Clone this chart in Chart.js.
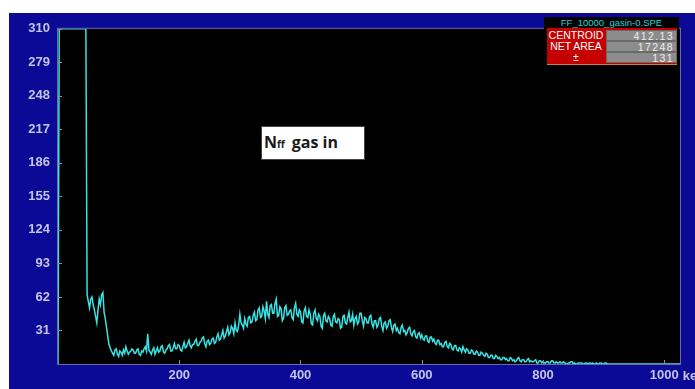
<!DOCTYPE html>
<html>
<head>
<meta charset="utf-8">
<script src="https://cdn.jsdelivr.net/npm/chart.js@4/dist/chart.umd.min.js"></script>
<style>
  body { margin: 0; background: #fff; width: 695px; height: 389px; overflow: hidden; position: relative; }
  #panel { position: absolute; left: 9px; top: 13px; width: 686px; height: 376px; background: #0a0a96; }
  #info { position: absolute; left: 544px; top: 17px; width: 135px; height: 50px; background: #000; font-family: "Liberation Sans", Arial, sans-serif; }
  #info .title { position: absolute; left: 0; top: 1px; width: 135px; text-align: center; color: #2ad0d0; font-size: 9.5px; line-height: 9px; }
  #info .tbl { position: absolute; left: 3px; top: 11px; width: 130px; height: 36px; background: #c40000; border-bottom: 1px solid #d08030; }
  .row { position: absolute; left: 0; width: 130px; height: 10px; }
  .row .lab { position: absolute; left: 0; width: 58px; text-align: center; color: #fff; font-size: 10.5px; line-height: 10px; }
  .row .val { position: absolute; left: 59px; width: 67px; height: 9px; background: #8c8c8c; border: 1px solid #6a6a6a; color: #ececec; font-size: 10.5px; line-height: 10px; text-align: right; letter-spacing: 1.4px; padding-right: 2px; }
  #note { position: absolute; left: 261px; top: 126px; width: 100px; height: 32px; padding-left: 2px; background: #fff; border: 1px solid #444; font-family: "Open Sans", sans-serif; font-weight: bold; color: #1a1a1a; font-size: 16px; line-height: 30px; }
  #note span.sub { font-size: 10px; margin-right: 7px; }
</style>
</head>
<body>
<div id="panel"><canvas id="spec" width="686" height="376"></canvas></div>

<div id="info">
  <div class="title">FF_10000_gasin-0.SPE</div>
  <div class="tbl">
    <div class="row" style="top:2px"><div class="lab">CENTROID</div><div class="val">412.13</div></div>
    <div class="row" style="top:13px"><div class="lab">NET AREA</div><div class="val">17248</div></div>
    <div class="row" style="top:24px"><div class="lab">±</div><div class="val">131</div></div>
  </div>
</div>

<div id="note">N<span class="sub">ff</span>gas in</div>

<script>
'use strict';

// spectrum: one value per 2 keV channel
const kevPerChannel = 2;

const counts = [
  0, 310, 310, 310, 310, 310, 310, 310, 310, 310, 310, 310, 310, 310, 310, 310, 310, 310, 310, 310, 310, 310, 310, 310, 64, 58, 52, 60, 62, 55, 50, 44,
  38, 50, 60, 55, 64, 66, 48, 42, 34, 26, 18, 15, 12, 10, 8, 13, 14, 9, 7, 12, 11, 8, 13, 10, 16, 12, 9, 11, 12, 14, 13, 10,
  10, 13, 14, 9, 8, 12, 11, 14, 16, 12, 28, 13, 11, 9, 13, 15, 9, 12, 15, 11, 12, 16, 17, 11, 10, 13, 14, 17, 18, 12, 12, 15,
  19, 14, 14, 18, 17, 13, 12, 16, 20, 15, 16, 19, 22, 17, 15, 18, 18, 21, 23, 17, 17, 20, 21, 24, 25, 19, 16, 21, 22, 18, 19, 23,
  24, 19, 20, 25, 28, 22, 23, 27, 31, 24, 26, 30, 34, 27, 29, 35, 33, 28, 38, 31, 30, 36, 46, 38, 36, 33, 42, 37, 35, 43, 44, 38,
  39, 45, 48, 40, 41, 50, 52, 43, 44, 53, 49, 42, 58, 46, 43, 54, 55, 47, 47, 56, 60, 44, 45, 53, 51, 40, 42, 52, 54, 45, 46, 49,
  50, 43, 41, 52, 56, 46, 44, 50, 48, 39, 38, 49, 52, 44, 43, 50, 46, 37, 36, 47, 50, 42, 40, 46, 44, 35, 33, 45, 47, 40, 39, 44,
  42, 36, 35, 44, 46, 39, 38, 42, 41, 33, 34, 44, 45, 38, 37, 43, 48, 39, 40, 46, 36, 42, 44, 37, 39, 47, 47, 40, 35, 43, 42, 38,
  38, 44, 45, 37, 34, 40, 40, 34, 36, 42, 43, 35, 31, 38, 39, 33, 35, 40, 41, 34, 30, 36, 37, 31, 33, 29, 28, 34, 36, 30, 31, 27,
  29, 33, 34, 28, 26, 30, 31, 25, 24, 28, 29, 24, 27, 23, 22, 26, 26, 21, 20, 25, 25, 21, 23, 19, 18, 22, 22, 18, 19, 16, 16, 20,
  21, 16, 15, 19, 18, 14, 13, 17, 17, 13, 12, 15, 14, 11, 16, 13, 11, 14, 13, 10, 10, 13, 12, 9, 9, 12, 11, 8, 8, 11, 10, 8,
  7, 10, 9, 6, 6, 8, 8, 5, 5, 8, 7, 5, 6, 4, 4, 6, 6, 4, 5, 3, 3, 6, 5, 3, 4, 2, 3, 5, 6, 3, 2, 4,
  4, 2, 2, 4, 5, 2, 3, 2, 2, 3, 4, 1, 1, 3, 3, 1, 2, 1, 1, 2, 2, 1, 1, 3, 3, 1, 1, 2, 1, 1, 2, 1,
  1, 2, 1, 0, 0, 1, 1, 2, 2, 0, 1, 0, 0, 1, 1, 1, 1, 0, 0, 1, 1, 0, 1, 1, 0, 1, 0, 0, 1, 0, 0, 1,
  1, 0, 0, 1, 1, 0, 0, 0, 0, 0, 0, 0, 0, 0, 0, 0, 0, 0, 0, 0, 0, 0, 0, 0, 0, 0, 0, 0, 0, 0, 0, 0,
  0, 0, 0, 0, 0, 0, 0, 0, 0, 0, 0, 0, 0, 0, 0, 0, 0, 0, 0, 0, 0, 0, 0, 0, 0, 0, 0, 0, 0, 0, 0, 0,
  0, 0
];

const xMax = 1026;
const xTicks = [200, 400, 600, 800, 1000];
const yMax = 310;
const yTicks = [31, 62, 93, 124, 155, 186, 217, 248, 279, 310];
const xUnit = 'keV';

let points = counts.map((c, i) => ({ x: i * kevPerChannel, y: c }));

let labelFont = { family: 'Liberation Sans, Arial, sans-serif', size: 13, weight: 'bold' };
let labelColor = '#c4c4e4';

// black plot area, frame, inward tick marks and the unit after the last label
const plotDeco = {
  id: 'plotDeco',
  beforeDraw(chart) {
    let a = chart.chartArea;
    let ctx = chart.ctx;
    ctx.save();
    ctx.fillStyle = '#000';
    ctx.fillRect(a.left, a.top, a.right - a.left, a.bottom - a.top);
    ctx.restore();
  },
  afterDraw(chart) {
    let a = chart.chartArea;
    let ctx = chart.ctx;
    let xs = chart.scales.x;
    let ys = chart.scales.y;
    ctx.save();
    ctx.strokeStyle = '#6a6aa8';
    ctx.lineWidth = 1;
    ctx.strokeRect(a.left - 0.5, a.top - 0.5, a.right - a.left + 1, a.bottom - a.top + 1);

    ctx.strokeStyle = '#8c8ca8';
    ctx.beginPath();
    ys.ticks.forEach(t => {
      let py = Math.round(ys.getPixelForValue(t.value)) + 0.5;
      ctx.moveTo(a.left, py);
      ctx.lineTo(a.left + 4, py);
    });
    xs.ticks.forEach(t => {
      let px = Math.round(xs.getPixelForValue(t.value)) + 0.5;
      ctx.moveTo(px, a.bottom);
      ctx.lineTo(px, a.bottom - 4);
    });
    ctx.stroke();

    let last = xs.ticks[xs.ticks.length - 1];
    ctx.font = `${labelFont.weight} ${labelFont.size}px ${labelFont.family}`;
    ctx.fillStyle = labelColor;
    ctx.textBaseline = 'middle';
    let lx = xs.getPixelForValue(last.value) + ctx.measureText(String(last.value)).width / 2 + 4;
    ctx.fillText(xUnit, lx, a.bottom + 12);
    ctx.restore();
  }
};

new Chart(document.getElementById('spec'), {
  type: 'line',
  data: {
    datasets: [{
      data: points,
      borderColor: '#38e4e4',
      borderWidth: 1.5,
      pointRadius: 0,
      tension: 0,
      fill: false
    }]
  },
  options: {
    responsive: false,
    animation: false,
    devicePixelRatio: 1,
    layout: { padding: { top: 4, right: 15, left: 0, bottom: 0 } },
    plugins: { legend: { display: false }, tooltip: { enabled: false } },
    scales: {
      x: {
        type: 'linear',
        min: 0,
        max: xMax,
        afterFit(s) { s.height = 25; },
        afterBuildTicks(s) { s.ticks = xTicks.map(v => ({ value: v })); },
        grid: { display: false, drawTicks: false },
        border: { display: false },
        ticks: {
          autoSkip: false,
          maxRotation: 0,
          padding: 4,
          color: labelColor,
          font: labelFont,
          callback: v => String(v)
        }
      },
      y: {
        min: 0,
        max: yMax,
        afterFit(s) { s.width = 49; },
        afterBuildTicks(s) { s.ticks = yTicks.map(v => ({ value: v })); },
        grid: { display: false, drawTicks: false },
        border: { display: false },
        ticks: {
          autoSkip: false,
          padding: 8,
          color: labelColor,
          font: labelFont,
          callback: v => String(v)
        }
      }
    }
  },
  plugins: [plotDeco]
});
</script>
</body>
</html>
